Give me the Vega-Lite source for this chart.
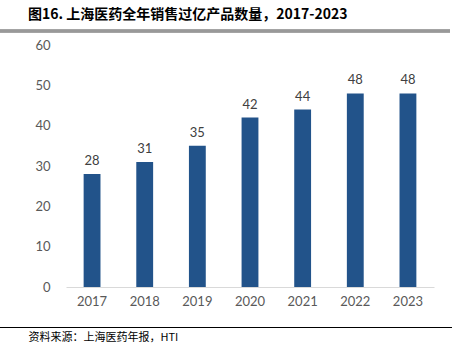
{
  "$schema": "https://vega.github.io/schema/vega-lite/v6.json",
  "autosize": "none",
  "width": 368,
  "height": 242,
  "padding": {"left": 66, "top": 45, "right": 18, "bottom": 65},
  "background": "white",
  "config": {"view": {"stroke": null}},
  "title": {
    "text": "图16. 上海医药全年销售过亿产品数量，2017-2023",
    "anchor": "start",
    "frame": "group",
    "baseline": "bottom",
    "dx": -38,
    "dy": 16,
    "offset": 10,
    "font": "Noto Sans CJK SC",
    "fontSize": 14,
    "fontWeight": "bold",
    "color": "#000000"
  },
  "data": {"values": [
    {"year": "2017", "count": 28},
    {"year": "2018", "count": 31},
    {"year": "2019", "count": 35},
    {"year": "2020", "count": 42},
    {"year": "2021", "count": 44},
    {"year": "2022", "count": 48},
    {"year": "2023", "count": 48}
  ]},
  "encoding": {
    "x": {
      "field": "year", "type": "ordinal",
      "scale": {"paddingInner": 0.68, "paddingOuter": 0.335},
      "axis": {
        "title": "资料来源：上海医药年报，HTI",
        "titleFont": "Noto Sans CJK SC",
        "titleFontSize": 11,
        "titleFontWeight": "normal",
        "titleColor": "#000000",
        "titleAnchor": "start",
        "titleAlign": "left",
        "titleBaseline": "middle",
        "titleX": -38,
        "titleY": 50,
        "labelAngle": 0,
        "labelFont": "Lato",
        "labelFontSize": 13,
        "labelColor": "#595959",
        "labelPadding": 8,
        "domainColor": "#D9D9D9",
        "domainWidth": 1,
        "ticks": false
      }
    },
    "y": {
      "field": "count", "type": "quantitative",
      "scale": {"domain": [0, 60]},
      "axis": {
        "title": null,
        "values": [0, 10, 20, 30, 40, 50, 60],
        "grid": false,
        "domain": false,
        "ticks": false,
        "labelFont": "Lato",
        "labelFontSize": 13,
        "labelColor": "#595959",
        "labelPadding": 16
      }
    }
  },
  "layer": [
    {"mark": {"type": "bar", "color": "#22538A"}},
    {
      "mark": {"type": "text", "dy": -13, "font": "Lato", "fontSize": 13, "color": "#404040"},
      "encoding": {"text": {"field": "count", "type": "quantitative"}}
    },
    {
      "mark": {"type": "rule", "color": "#999999", "strokeWidth": 2.5},
      "encoding": {"x": {"value": -66}, "x2": {"value": 384}, "y": {"value": -14}}
    },
    {
      "mark": {"type": "rule", "color": "#000000", "strokeWidth": 1},
      "encoding": {"x": {"value": -66}, "x2": {"value": 386}, "y": {"value": 282.5}}
    }
  ]
}
